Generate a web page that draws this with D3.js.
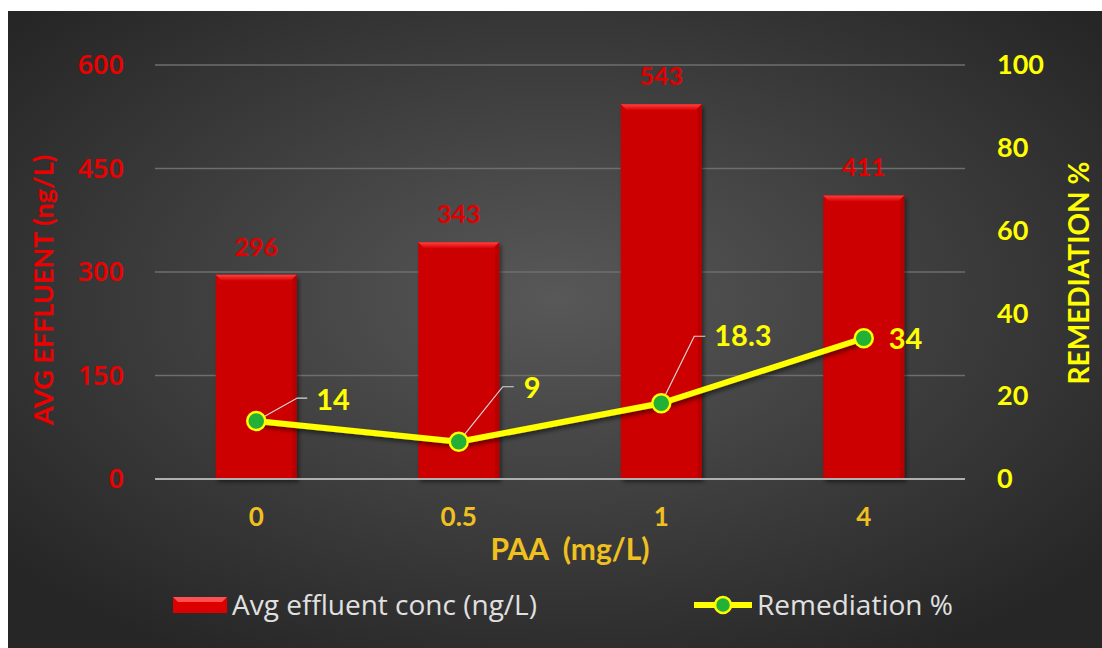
<!DOCTYPE html>
<html>
<head>
<meta charset="utf-8">
<script src="https://cdn.jsdelivr.net/npm/d3@7"></script>
<style>
  body { margin: 0; background: #fff; }
  svg { display: block; font-family: Lato, "Open Sans", sans-serif; }
</style>
</head>
<body>
<svg id="chart" width="1102" height="648"></svg>
<script>
// Chart data
const categories = ['0', '0.5', '1', '4'];
const avgEffluent = [296, 343, 543, 411];
const remediation = [14, 9, 18.3, 34];
const leftTicks = [0, 150, 300, 450, 600];
const rightTicks = [0, 20, 40, 60, 80, 100];

const svg = d3.select('#chart');
const margin = {top: 65, right: 137, bottom: 169, left: 155};
const width = 1102 - margin.left - margin.right;
const height = 648 - margin.top - margin.bottom;

// Background with radial gradient
const defs = svg.append('defs');
const bg = defs.append('radialGradient').attr('id', 'bg')
    .attr('cx', '50%').attr('cy', '45%').attr('r', '65%');
bg.append('stop').attr('offset', '0%').attr('stop-color', '#585858');
bg.append('stop').attr('offset', '100%').attr('stop-color', '#262626');

const barGrad = defs.append('linearGradient').attr('id', 'barTop')
    .attr('x1', 0).attr('y1', 0).attr('x2', 0).attr('y2', 1);
barGrad.append('stop').attr('offset', '0%').attr('stop-color', '#ff4040');
barGrad.append('stop').attr('offset', '100%').attr('stop-color', '#d80000');

const shadow = defs.append('filter').attr('id', 'shadow')
    .attr('x', '-20%').attr('y', '-20%').attr('width', '140%').attr('height', '140%');
shadow.append('feDropShadow').attr('dx', 2).attr('dy', 3).attr('stdDeviation', 2)
    .attr('flood-color', '#000').attr('flood-opacity', 0.5);

svg.append('rect')
    .attr('x', 8).attr('y', 11)
    .attr('width', 1102 - 8).attr('height', 648 - 11)
    .attr('fill', 'url(#bg)');

const chart = svg.append('g')
    .attr('transform', `translate(${margin.left},${margin.top})`);

// Scales
const xScale = d3.scaleBand().domain(categories).range([0, width]).paddingInner(0.6).paddingOuter(0.3);
const yLeft = d3.scaleLinear().domain([0, 600]).range([height, 0]);
const yRight = d3.scaleLinear().domain([0, 100]).range([height, 0]);

// Gridlines
chart.append('g')
    .selectAll('line')
    .data(leftTicks.filter(d => d > 0))
    .join('line')
    .attr('x1', 0).attr('x2', width)
    .attr('y1', d => yLeft(d)).attr('y2', d => yLeft(d))
    .attr('stroke', '#6e6e6e').attr('stroke-width', 1.5);

// Left axis
const leftAxis = chart.append('g')
    .call(d3.axisLeft(yLeft).tickValues(leftTicks).tickSize(0).tickPadding(31));
leftAxis.select('.domain').remove();
leftAxis.selectAll('text')
    .attr('fill', '#ee0000').attr('font-size', 27).attr('font-weight', 600)
    .attr('font-family', '"Open Sans", sans-serif');

// Right axis
const rightAxis = chart.append('g')
    .attr('transform', `translate(${width},0)`)
    .call(d3.axisRight(yRight).tickValues(rightTicks).tickSize(0).tickPadding(32));
rightAxis.select('.domain').remove();
rightAxis.selectAll('text')
    .attr('fill', '#ffff00').attr('font-size', 27).attr('font-weight', 'bold').attr('font-family', 'Lato, sans-serif');

// Bars
const bars = chart.selectAll('.bar')
    .data(categories)
    .join('g')
    .attr('class', 'bar');

bars.append('rect')
    .attr('x', (d) => xScale(d))
    .attr('y', (d, i) => yLeft(avgEffluent[i]))
    .attr('width', xScale.bandwidth())
    .attr('height', (d, i) => height - yLeft(avgEffluent[i]))
    .attr('fill', '#cc0000')
    .attr('filter', 'url(#shadow)');

// bevel on top of bars
bars.append('path')
    .attr('d', (d, i) => {
        const x0 = xScale(d), x1 = x0 + xScale.bandwidth(), y0 = yLeft(avgEffluent[i]);
        return `M${x0},${y0}L${x1},${y0}L${x1 - 6},${y0 + 6}L${x0 + 6},${y0 + 6}Z`;
    })
    .attr('fill', 'url(#barTop)');
bars.append('path')
    .attr('d', (d, i) => {
        const x0 = xScale(d), x1 = x0 + xScale.bandwidth(), y0 = yLeft(avgEffluent[i]);
        return `M${x1},${y0}L${x1},${height}L${x1 - 4},${height}L${x1 - 4},${y0 + 4}Z`;
    })
    .attr('fill', '#a80000').attr('opacity', 0.6);

// Bar labels
chart.selectAll('.bar-label')
    .data(categories)
    .join('text')
    .attr('class', 'bar-label')
    .attr('x', d => xScale(d) + xScale.bandwidth() / 2)
    .attr('y', (d, i) => yLeft(avgEffluent[i]) - 19)
    .attr('text-anchor', 'middle')
    .attr('fill', '#e00000')
    .attr('font-weight', 'bold')
    .attr('font-size', 25)
    .text((d, i) => avgEffluent[i]);

// Baseline
chart.append('line')
    .attr('x1', 0).attr('x2', width)
    .attr('y1', height).attr('y2', height)
    .attr('stroke', '#b0b0b0').attr('stroke-width', 2);

// X axis labels
const xAxis = chart.append('g')
    .attr('transform', `translate(0,${height})`)
    .call(d3.axisBottom(xScale).tickSize(0).tickPadding(29));
xAxis.select('.domain').remove();
xAxis.selectAll('text')
    .attr('fill', '#f0c020').attr('font-size', 26).attr('font-weight', 'bold').attr('font-family', 'Lato, sans-serif');

// Remediation line
const cx = d => xScale(d) + xScale.bandwidth() / 2;
const lineData = categories.map((c, i) => ({c, v: remediation[i]}));
const line = d3.line().x(d => cx(d.c)).y(d => yRight(d.v));

chart.append('path')
    .datum(lineData)
    .attr('d', line)
    .attr('fill', 'none')
    .attr('stroke', '#ffff00')
    .attr('stroke-width', 6)
    .attr('stroke-linejoin', 'round')
    .attr('filter', 'url(#shadow)');

// Leader lines for line labels (offset in px from the point)
const leaderOffsets = [[41, -23, 10], [44, -55, 11], [33, -67, 11], null];
chart.selectAll('.leader')
    .data(lineData.filter((d, i) => leaderOffsets[i]))
    .join('path')
    .attr('class', 'leader')
    .attr('d', d => {
        const o = leaderOffsets[categories.indexOf(d.c)];
        const x = cx(d.c), y = yRight(d.v);
        return `M${x},${y}L${x + o[0]},${y + o[1]}L${x + o[0] + o[2]},${y + o[1]}`;
    })
    .attr('fill', 'none')
    .attr('stroke', '#d8d8d8')
    .attr('stroke-width', 1.2);

chart.selectAll('.dot')
    .data(lineData)
    .join('circle')
    .attr('class', 'dot')
    .attr('cx', d => cx(d.c))
    .attr('cy', d => yRight(d.v))
    .attr('r', 9)
    .attr('fill', '#22b036')
    .attr('stroke', '#ffff00')
    .attr('stroke-width', 2.5);

const labelOffsets = [[60, -21], [65, -54], [53, -67], [25, 1]];
chart.selectAll('.line-label')
    .data(lineData)
    .join('text')
    .attr('class', 'line-label')
    .attr('x', (d, i) => cx(d.c) + labelOffsets[i][0])
    .attr('y', (d, i) => yRight(d.v) + labelOffsets[i][1])
    .attr('dy', '0.35em')
    .attr('fill', '#ffff00')
    .attr('font-weight', 'bold')
    .attr('font-size', 29)
    .text(d => d.v);

// Axis titles
svg.append('text')
    .attr('transform', 'translate(53,290) rotate(-90)')
    .attr('text-anchor', 'middle')
    .attr('fill', '#ee0000')
    .attr('font-weight', 'bold')
    .attr('font-size', 27)
    .text('AVG EFFLUENT  (ng/L)');

svg.append('text')
    .attr('transform', 'translate(1089,273) rotate(-90)')
    .attr('text-anchor', 'middle')
    .attr('fill', '#ffff00')
    .attr('font-weight', 'bold')
    .attr('font-size', 28)
    .text('REMEDIATION %');

svg.append('text')
    .attr('x', 570).attr('y', 560)
    .attr('text-anchor', 'middle')
    .attr('fill', '#f0c020')
    .attr('font-weight', 'bold')
    .attr('font-size', 30)
    .attr('xml:space', 'preserve')
    .text('PAA  (mg/L)');

// Legend
const legend = svg.append('g').attr('transform', 'translate(0,605)');
legend.append('rect')
    .attr('x', 173).attr('y', -8).attr('width', 54).attr('height', 16)
    .attr('fill', '#dd0000');
legend.append('path')
    .attr('d', 'M173,-8L227,-8L222,-3L178,-3Z')
    .attr('fill', '#ff5050');
legend.append('text')
    .attr('x', 232).attr('y', 0).attr('dy', '0.35em')
    .attr('fill', '#e0e0e0').attr('font-size', 28)
    .attr('font-family', '"Open Sans", sans-serif')
    .text('Avg effluent conc (ng/L)');

legend.append('line')
    .attr('x1', 694).attr('x2', 752).attr('y1', 0).attr('y2', 0)
    .attr('stroke', '#ffff00').attr('stroke-width', 6);
legend.append('circle')
    .attr('cx', 723).attr('cy', 0).attr('r', 8)
    .attr('fill', '#22b036').attr('stroke', '#ffff00').attr('stroke-width', 2.5);
legend.append('text')
    .attr('x', 757).attr('y', 0).attr('dy', '0.35em')
    .attr('fill', '#e0e0e0').attr('font-size', 28)
    .attr('font-family', '"Open Sans", sans-serif')
    .text('Remediation %');
</script>
</body>
</html>
